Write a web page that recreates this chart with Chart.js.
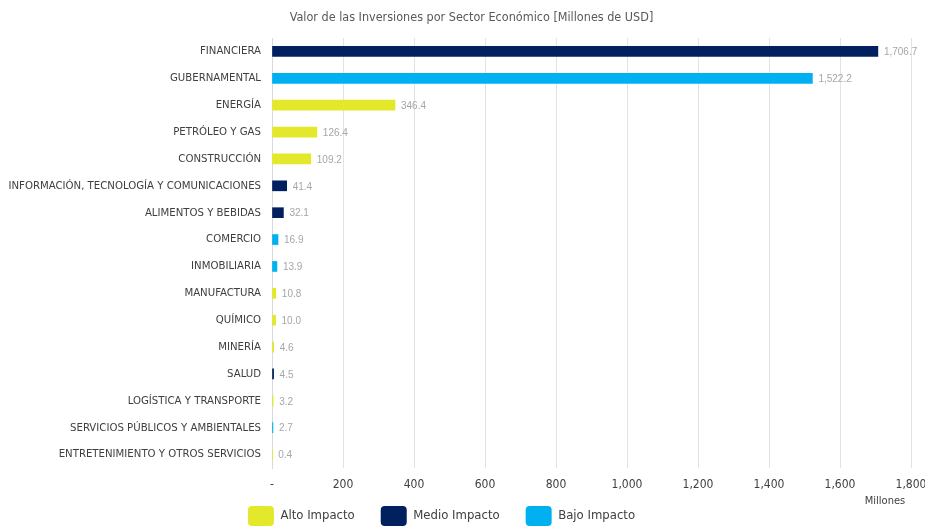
<!DOCTYPE html>
<html>
<head>
<meta charset="utf-8">
<script src="https://cdn.jsdelivr.net/npm/chart.js@4/dist/chart.umd.min.js"></script>
<style>
  html, body { margin: 0; padding: 0; background: #fff; }
  #wrap { width: 925px; height: 527px; }
</style>
</head>
<body>
<div id="wrap"><canvas id="chart"></canvas></div>
<script>
// datos
const sectores = [
  'FINANCIERA', 'GUBERNAMENTAL', 'ENERGÍA', 'PETRÓLEO Y GAS', 'CONSTRUCCIÓN',
  'INFORMACIÓN, TECNOLOGÍA Y COMUNICACIONES', 'ALIMENTOS Y BEBIDAS', 'COMERCIO',
  'INMOBILIARIA', 'MANUFACTURA', 'QUÍMICO', 'MINERÍA', 'SALUD',
  'LOGÍSTICA Y TRANSPORTE', 'SERVICIOS PÚBLICOS Y AMBIENTALES',
  'ENTRETENIMIENTO Y OTROS SERVICIOS'
];
const valores = [1706.7, 1522.2, 346.4, 126.4, 109.2, 41.4, 32.1, 16.9, 13.9, 10.8, 10.0, 4.6, 4.5, 3.2, 2.7, 0.4];
const impacto = ['Medio', 'Bajo', 'Alto', 'Alto', 'Alto', 'Medio', 'Medio', 'Bajo', 'Bajo', 'Alto', 'Alto', 'Alto', 'Medio', 'Alto', 'Bajo', 'Alto'];
const grupos = ['Alto', 'Medio', 'Bajo'];
const etiquetasGrupo = ['Alto Impacto', 'Medio Impacto', 'Bajo Impacto'];
const xTicks = [0, 200, 400, 600, 800, 1000, 1200, 1400, 1600, 1800];

const colores = { Alto: '#e4e82a', Medio: '#002060', Bajo: '#00b0f0' };
const fuente = "'DejaVu Sans Condensed', 'Liberation Sans Narrow', sans-serif";

const datasets = grupos.map((g, i) => ({
  label: etiquetasGrupo[i],
  data: valores.map((v, j) => impacto[j] === g ? v : null),
  backgroundColor: colores[g],
  barThickness: 10,
  grouped: false,
  skipNull: true
}));

// etiquetas de valor, titulo del eje y ajuste de la leyenda
const etiquetasValor = {
  id: 'etiquetasValor',
  beforeUpdate(chart) {
    const legend = chart.legend;
    if (legend && !legend._ajustada) {
      const fitOrig = legend.fit;
      legend.fit = function () {
        fitOrig.call(this);
        this.height = 33;
      };
      legend._ajustada = true;
    }
  },
  afterLayout(chart) {
    // subir la leyenda para que quede junto al eje, y correrla a la izquierda
    const legend = chart.legend;
    legend.top -= 14;
    legend.height += 14;
    legend.left -= 21;
    legend.right -= 21;
    // titulo un poco a la derecha
    const titulo = chart.titleBlock;
    titulo.left += 9;
    titulo.right += 9;
  },
  afterDatasetsDraw(chart) {
    const ctx = chart.ctx;
    ctx.save();
    ctx.font = "10px 'Liberation Sans', sans-serif";
    ctx.fillStyle = '#a6a6a6';
    ctx.textBaseline = 'middle';
    chart.data.datasets.forEach((ds, i) => {
      chart.getDatasetMeta(i).data.forEach((bar, j) => {
        if (ds.data[j] == null) return;
        const txt = ds.data[j].toLocaleString('en-US', { minimumFractionDigits: 1, maximumFractionDigits: 1 });
        ctx.fillText(txt, bar.x + 6, bar.y + 1);
      });
    });
    const x = chart.scales.x;
    ctx.font = "11px " + fuente;
    ctx.fillStyle = '#404040';
    ctx.textAlign = 'center';
    ctx.fillText('Millones', x.right - 26, x.top + 33);
    ctx.restore();
  }
};

new Chart(document.getElementById('chart'), {
  type: 'bar',
  data: { labels: sectores, datasets: datasets },
  plugins: [etiquetasValor],
  options: {
    indexAxis: 'y',
    responsive: true,
    maintainAspectRatio: false,
    animation: false,
    layout: { padding: 0 },
    plugins: {
      title: {
        display: true,
        text: 'Valor de las Inversiones por Sector Económico [Millones de USD]',
        color: '#595959',
        font: { family: fuente, size: 12.5, weight: 'normal' },
        padding: { top: 10, bottom: 13 }
      },
      legend: {
        position: 'bottom',
        labels: {
          color: '#404040',
          font: { family: fuente, size: 13 },
          boxWidth: 26,
          boxHeight: 20,
          useBorderRadius: true,
          borderRadius: 4,
          padding: 26
        }
      },
      tooltip: { enabled: false }
    },
    scales: {
      x: {
        min: 0,
        max: 1800,
        afterBuildTicks(scale) { scale.ticks = xTicks.map(v => ({ value: v })); },
        afterFit(scale) { scale.height = 26; scale.paddingRight = 14; },
        ticks: {
          color: '#404040',
          font: { family: fuente, size: 12 },
          padding: 10,
          callback: v => v === 0 ? '-' : v.toLocaleString('en-US')
        },
        grid: { color: '#e3e3e3', drawTicks: false },
        border: { display: false }
      },
      y: {
        afterFit(scale) { scale.width = 272; },
        ticks: {
          color: '#404040',
          font: { family: fuente, size: 11.3 },
          padding: 3
        },
        grid: { display: false },
        border: { color: '#d9d9d9' }
      }
    }
  }
});
</script>
</body>
</html>
